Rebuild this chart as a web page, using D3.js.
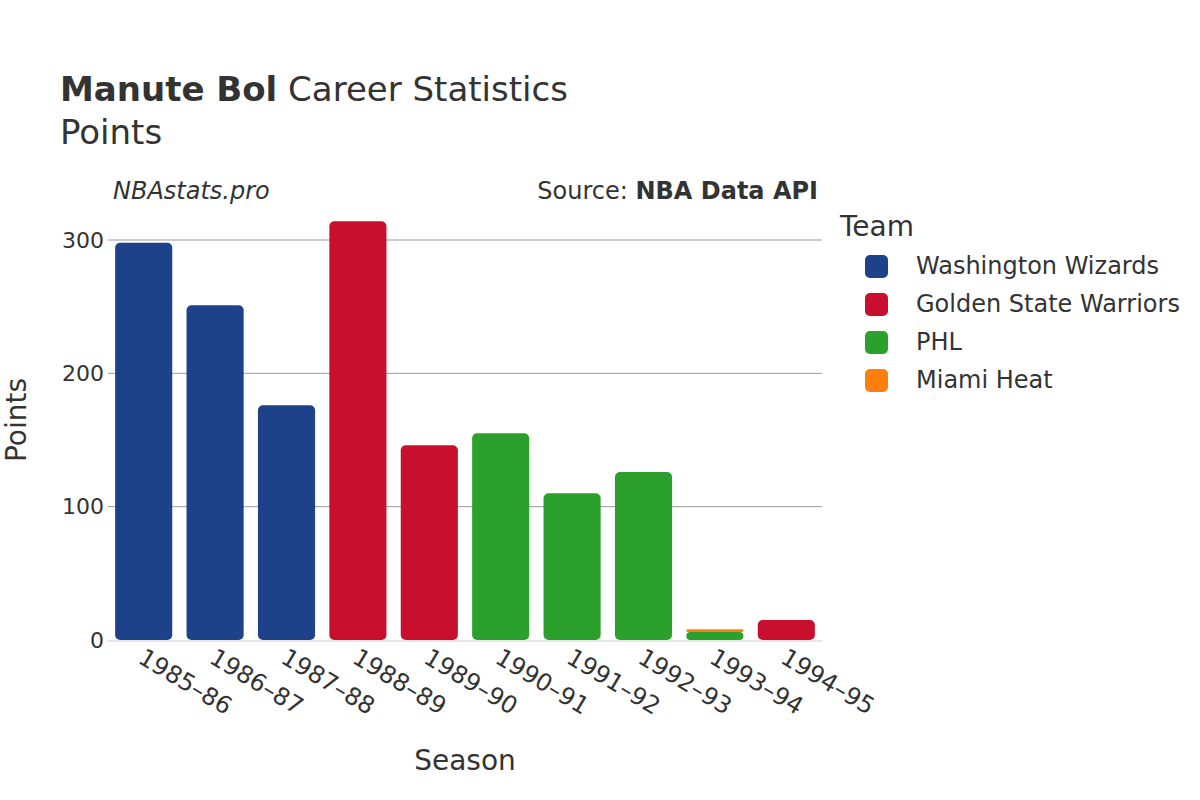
<!DOCTYPE html>
<html><head><meta charset="utf-8">
<script src="https://cdn.jsdelivr.net/npm/d3@7"></script>
<style>body{margin:0;background:#fff;} text{font-family:"DejaVu Sans",sans-serif;fill:#333;}</style>
</head><body>
<svg id="c" width="1200" height="800"></svg>
<script>
const seasons = ["1985–86","1986–87","1987–88","1988–89","1989–90","1990–91","1991–92","1992–93","1993–94","1994–95"];
const teams = ["Washington Wizards","Golden State Warriors","PHL","Miami Heat"];
const teamColors = ["#1d428a","#c8102e","#2ca02c","#ff7f0e"];
const washington = [298,251,176,0,0,0,0,0,0,0];
const goldenState = [0,0,0,314,146,0,0,0,0,15];
const phl = [0,0,0,0,0,155,110,126,6,0];
const miami = [0,0,0,0,0,0,0,0,2,0];
const yTicks = [0,100,200,300];

(function(){
const series = [washington, goldenState, phl, miami];
const svg = d3.select("#c");
const pLeft=108, pRight=822, pBottom=640;
const x = d3.scaleBand().domain(seasons).range([pLeft,pRight]).paddingInner(0.2).paddingOuter(0.1);
const y = d3.scaleLinear().domain([0,300]).range([pBottom,240]);

// gridlines
svg.append("g").selectAll("line").data(yTicks.filter(d=>d>0)).join("line")
  .attr("x1",pLeft).attr("x2",pRight).attr("y1",d=>y(d)).attr("y2",d=>y(d))
  .attr("stroke","#999").attr("stroke-width",1);

// stacked bars
const stacked = seasons.map((s,i)=>{let base=0;return series.map((arr,t)=>{const v=arr[i];const r={s,t,y0:base,y1:base+v};base+=v;return r;});}).flat().filter(d=>d.y1>d.y0);
svg.append("g").selectAll("rect").data(stacked).join("rect")
  .attr("x",d=>x(d.s)).attr("width",x.bandwidth())
  .attr("y",d=>y(d.y1)).attr("height",d=>y(d.y0)-y(d.y1))
  .attr("rx",d=>Math.min(5,(y(d.y0)-y(d.y1))/2)).attr("fill",d=>teamColors[d.t]);

// zero line
svg.append("line").attr("x1",pLeft).attr("x2",pRight).attr("y1",y(0)+1).attr("y2",y(0)+1)
  .attr("stroke","#e5e5e5").attr("stroke-width",2);

// y axis labels
const yAxis = svg.append("g").attr("transform",`translate(${pLeft},0)`)
  .call(d3.axisLeft(y).tickValues(yTicks).tickSize(0).tickPadding(4));
yAxis.select(".domain").remove();
yAxis.selectAll("text").style("font-size","22px").attr("fill","#333").style("font-family","DejaVu Sans");

// x axis labels
const xAxis = svg.append("g").attr("transform",`translate(0,${pBottom})`)
  .call(d3.axisBottom(x).tickSize(0).tickPadding(0));
xAxis.select(".domain").remove();
xAxis.selectAll("text").style("font-size","24px").attr("fill","#333").style("font-family","DejaVu Sans")
  .attr("text-anchor","start").attr("dy",null).attr("y",0)
  .attr("transform","translate(-7,22) rotate(31)");

// titles
const t = svg.append("text").attr("x",60).attr("y",101).style("font-size","34px");
t.append("tspan").text("Manute Bol").style("font-weight","bold");
t.append("tspan").text(" Career Statistics");
svg.append("text").attr("x",60).attr("y",144).style("font-size","34px").text("Points");
svg.append("text").attr("x",113).attr("y",199).style("font-size","24px").style("font-style","italic").text("NBAstats.pro");
const src = svg.append("text").attr("x",818).attr("y",199).attr("text-anchor","end").style("font-size","24px");
src.append("tspan").text("Source: ");
src.append("tspan").text("NBA Data API").style("font-weight","bold");

svg.append("text").attr("transform","translate(26,420) rotate(-90)").attr("text-anchor","middle").style("font-size","28px").text("Points");
svg.append("text").attr("x",465).attr("y",770).attr("text-anchor","middle").style("font-size","28px").text("Season");

// legend
svg.append("text").attr("x",840).attr("y",236).style("font-size","28px").text("Team");
const lg = svg.append("g").selectAll("g").data(teams).join("g")
  .attr("transform",(d,i)=>`translate(0,${266+i*38})`);
lg.append("rect").attr("x",865).attr("y",-11).attr("width",23).attr("height",23).attr("rx",5)
  .attr("fill",(d,i)=>teamColors[i]);
lg.append("text").attr("x",916).attr("y",8).style("font-size","24px").text(d=>d);
})();
</script>
</body></html>
